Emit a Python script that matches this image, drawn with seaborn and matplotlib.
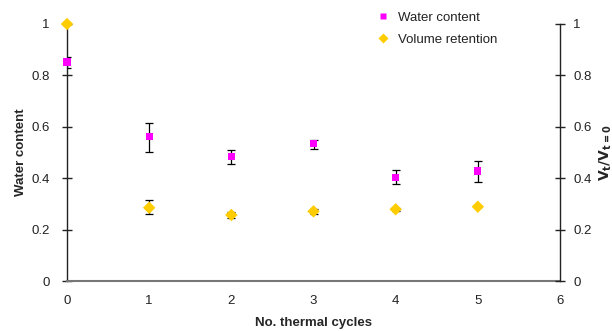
import matplotlib
matplotlib.use("Agg")
import matplotlib.pyplot as plt
import seaborn as sns
import pandas as pd
import numpy as np

cycles = [0, 1, 2, 3, 4, 5]
water = [0.852, 0.561, 0.484, 0.536, 0.403, 0.428]
water_err_hi = [0.870, 0.616, 0.510, 0.550, 0.433, 0.468]
water_err_lo = [0.830, 0.503, 0.456, 0.514, 0.376, 0.386]
volume = [1.0, 0.285, 0.257, 0.271, 0.279, 0.289]
volume_err_hi = [1.0, 0.314, 0.270, 0.282, 0.285, 0.292]
volume_err_lo = [1.0, 0.261, 0.245, 0.261, 0.273, 0.286]

sns.set_theme(style="white")
plt.rcParams['font.family'] = ['Liberation Sans', 'DejaVu Sans']

df = pd.DataFrame({
    "cycles": cycles * 2,
    "value": water + volume,
    "series": ["Water content"] * 6 + ["Volume retention"] * 6,
})

fig = plt.figure(figsize=(6.12, 3.31), dpi=100)
ax = fig.add_axes([67/612, 50/331, (560-67)/612, (281-24)/331])

w = np.array(water); v = np.array(volume)
ax.errorbar(cycles, water, yerr=[w - np.array(water_err_lo), np.array(water_err_hi) - w],
            fmt="none", ecolor="black", elinewidth=0.9, capsize=3, capthick=0.9, zorder=2)
ax.errorbar(cycles, volume, yerr=[v - np.array(volume_err_lo), np.array(volume_err_hi) - v],
            fmt="none", ecolor="black", elinewidth=0.9, capsize=3, capthick=0.9, zorder=2)

sns.scatterplot(data=df, x="cycles", y="value", hue="series", style="series", size="series",
                palette={"Water content": "#FF00FF", "Volume retention": "#FFCC00"},
                markers={"Water content": "s", "Volume retention": "D"},
                sizes={"Water content": 26, "Volume retention": 40},
                edgecolor="none", ax=ax, zorder=3, clip_on=False)

ax.set_xlim(0, 6)
ax.set_ylim(0, 1)
ax.set_xticks(range(7))
ax.set_yticks([0, 0.2, 0.4, 0.6, 0.8, 1])
ax.set_yticklabels(["0", "0.2", "0.4", "0.6", "0.8", "1"])
ax.set_xlabel("No. thermal cycles", fontsize=9.5, fontweight="bold", labelpad=7)
ax.set_ylabel("Water content", fontsize=9.5, fontweight="bold", labelpad=3)

for s in ["top", "right"]:
    ax.spines[s].set_visible(False)
ax.spines["left"].set_color("#222222")
ax.spines["bottom"].set_color("#777777")
ax.spines["left"].set_linewidth(1.0)
ax.spines["bottom"].set_linewidth(1.5)
ax.tick_params(axis="y", direction="inout", length=7, width=1, labelsize=9.5, colors="#222222", pad=9)
ax.tick_params(axis="x", direction="out", length=4, width=1, labelsize=9.5, colors="#444444",
               labelcolor="#222222", pad=6)

ax2 = ax.twinx()
ax2.set_ylim(0, 1)
ax2.set_yticks([0, 0.2, 0.4, 0.6, 0.8, 1])
ax2.set_yticklabels(["0", "0.2", "0.4", "0.6", "0.8", "1"])
for s in ["top", "left", "bottom"]:
    ax2.spines[s].set_visible(False)
ax2.spines["right"].set_color("#222222")
ax2.spines["right"].set_linewidth(1.0)
ax2.tick_params(axis="y", direction="inout", length=7, width=1, labelsize=9.5, colors="#222222", pad=6)
ax2.set_ylabel(r"$\mathbf{V_t/V_{t=0}}$", fontsize=10, labelpad=4, rotation=90)

leg = ax.legend(loc="upper left", bbox_to_anchor=(0.603, 1.068), frameon=False,
                fontsize=9.5, handletextpad=0.15, borderaxespad=0, labelspacing=0.72,
                markerscale=0.75)
for t in leg.get_texts():
    t.set_color("#222222")

fig.savefig("out.png", dpi=100)
